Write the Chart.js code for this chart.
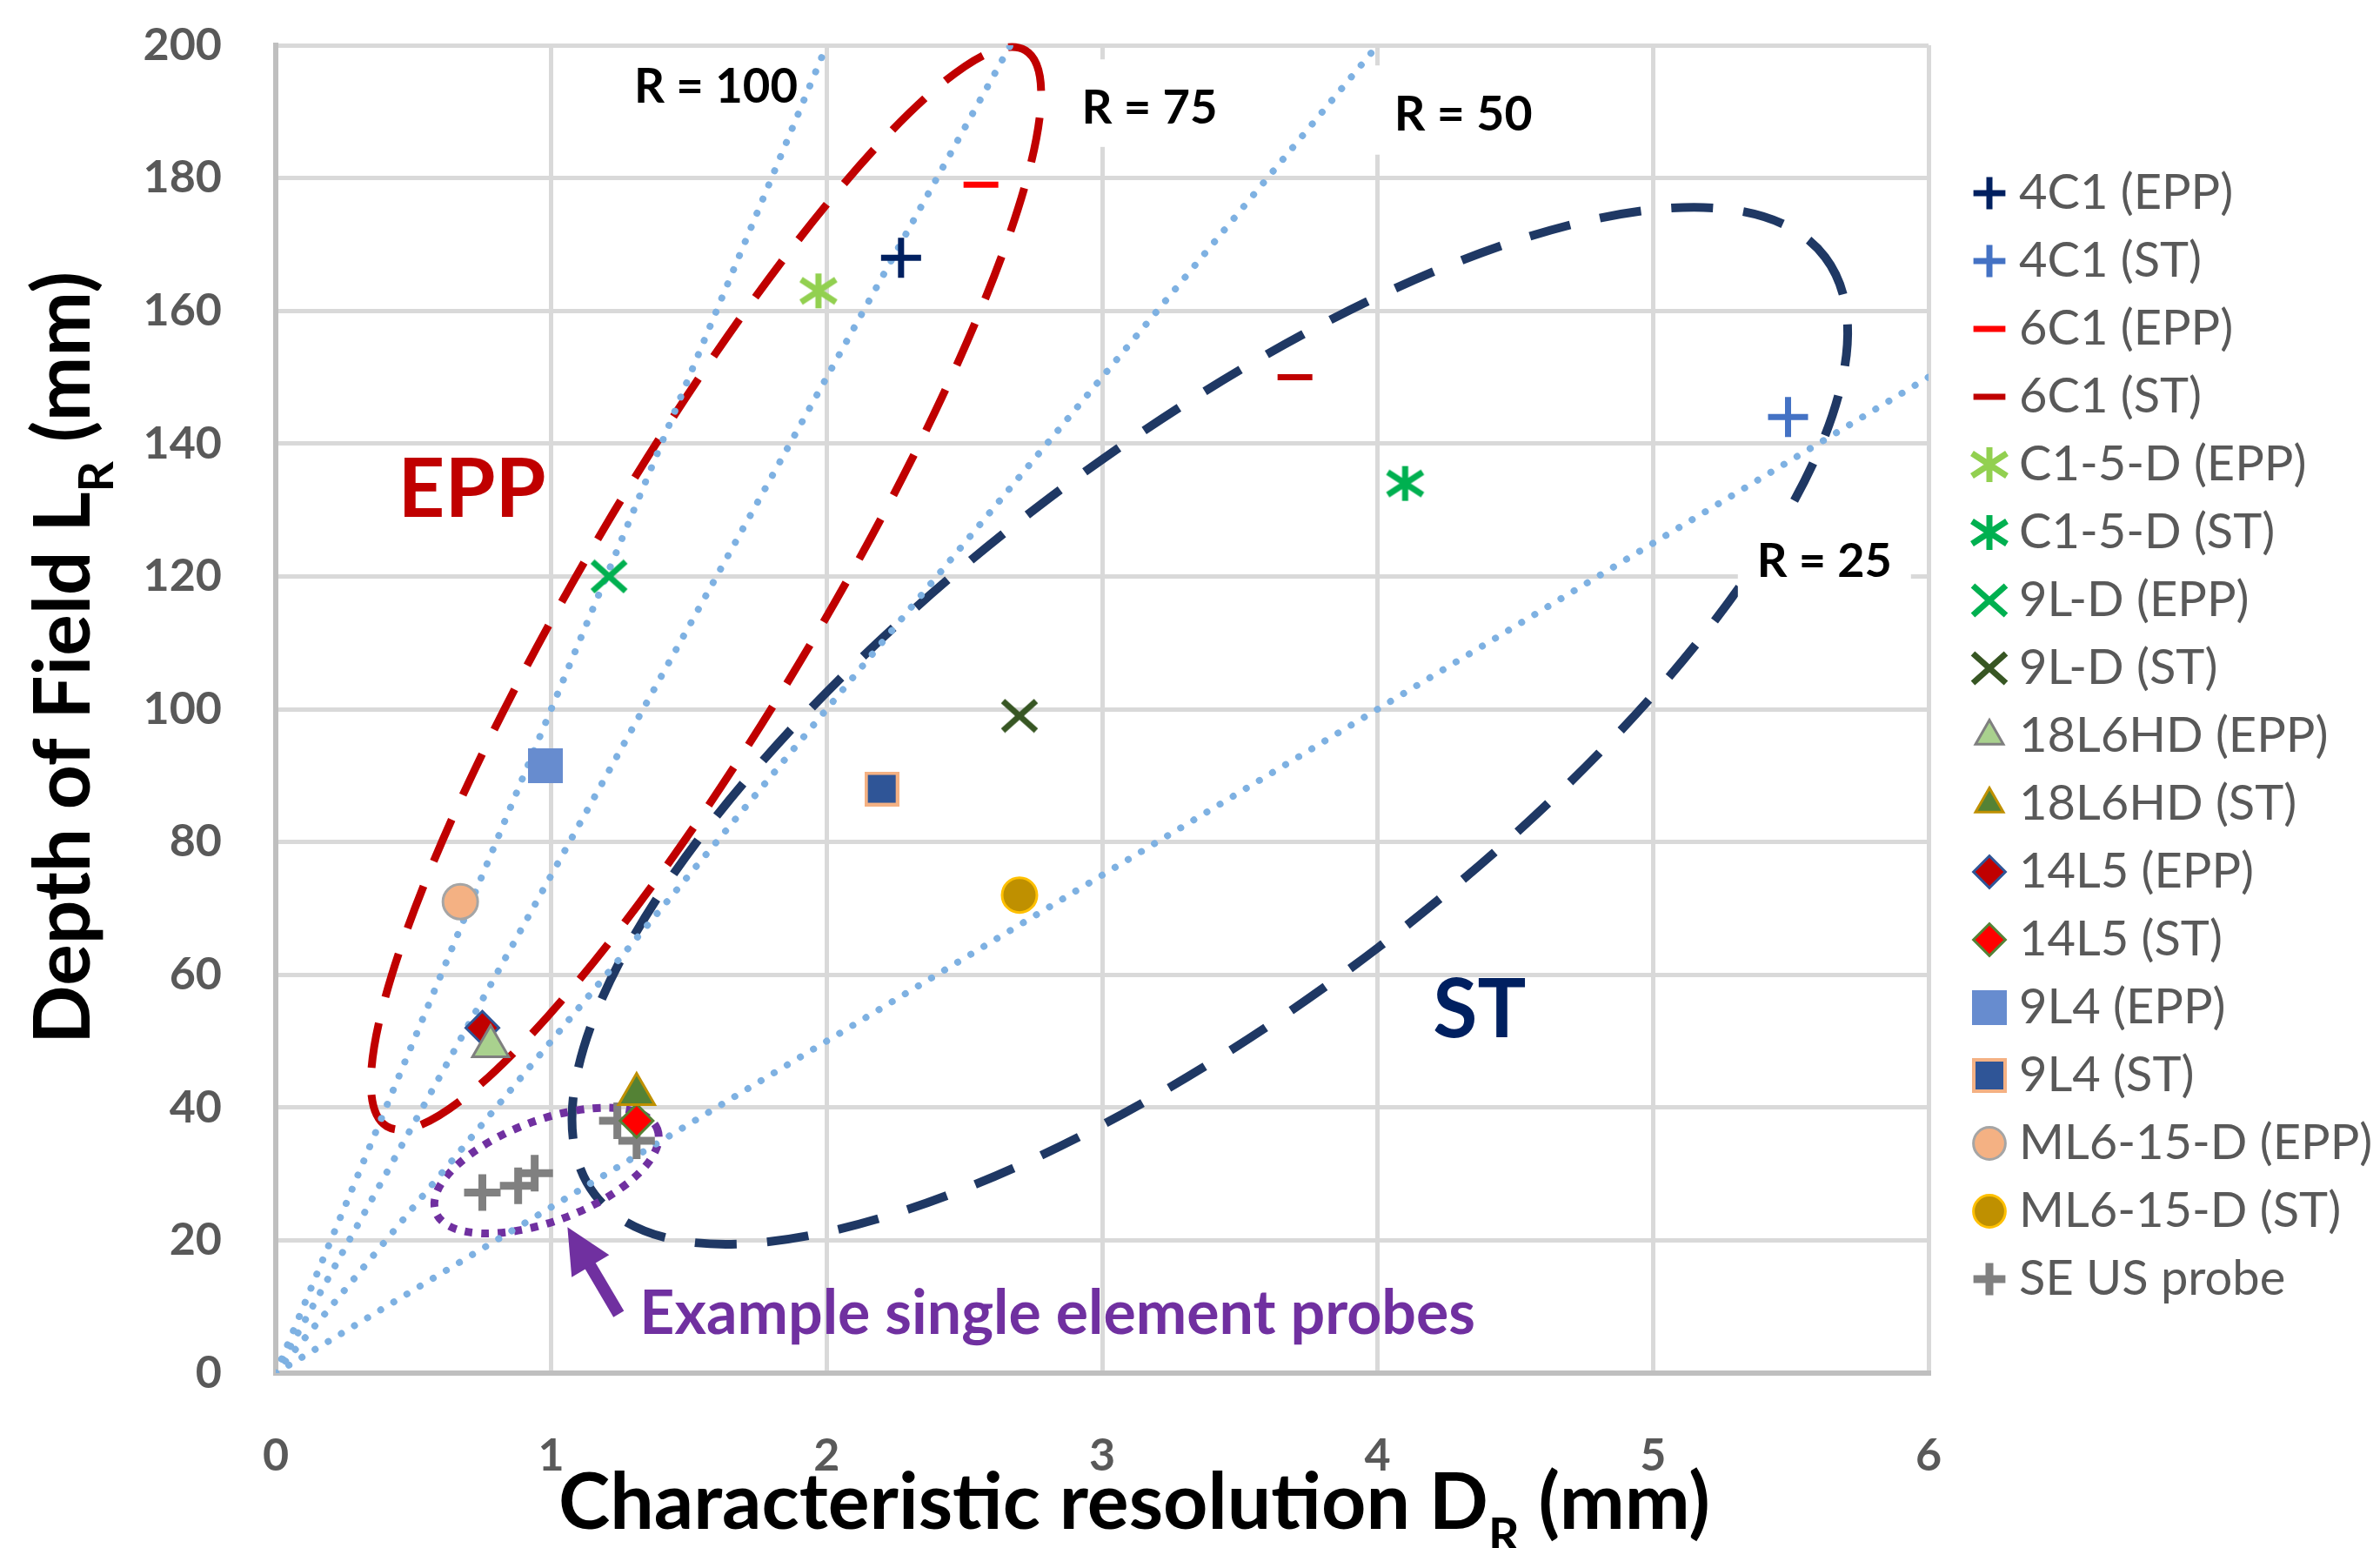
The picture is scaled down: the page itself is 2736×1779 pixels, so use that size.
<!DOCTYPE html>
<html>
<head>
<meta charset="utf-8">
<title>Depth of Field vs Characteristic resolution</title>
<script src="https://cdn.jsdelivr.net/npm/chart.js@4/dist/chart.umd.min.js"></script>
<style>
html, body { margin: 0; padding: 0; background: #ffffff; }
canvas { display: block; }
</style>
</head>
<body>
<canvas id="chart" width="2736" height="1779"></canvas>
<script>
// ---------------- data ----------------
const probeNames = ['4C1 (EPP)', '4C1 (ST)', '6C1 (EPP)', '6C1 (ST)', 'C1-5-D (EPP)', 'C1-5-D (ST)',
  '9L-D (EPP)', '9L-D (ST)', '18L6HD (EPP)', '18L6HD (ST)', '14L5 (EPP)', '14L5 (ST)',
  '9L4 (EPP)', '9L4 (ST)', 'ML6-15-D (EPP)', 'ML6-15-D (ST)'];
const probeResolution = [2.27, 5.49, 2.56, 3.70, 1.97, 4.10, 1.21, 2.70, 0.78, 1.31, 0.75, 1.31, 0.98, 2.20, 0.67, 2.70];
const probeDepth      = [168, 144, 179, 150, 163, 134, 120, 99, 49.2, 42, 52, 38, 91.5, 88, 71, 72];

const seProbeName = 'SE US probe';
const seProbeResolution = [0.75, 0.88, 0.94, 1.24, 1.31];
const seProbeDepth      = [27.2, 28.2, 30.1, 38.0, 35.0];

const rValues = [100, 75, 50, 25];
const rLineEndResolution = [2, 2.667, 4, 6];
const rLineEndDepth      = [200, 200, 200, 150];

const xTickValues = [0, 1, 2, 3, 4, 5, 6];
const yTickValues = [0, 20, 40, 60, 80, 100, 120, 140, 160, 180, 200];

// ---------------- styles ----------------
const FONT = 'Lato';
function asteriskMarker(color) {
  const c = document.createElement('canvas');
  c.width = 46; c.height = 44;
  const g = c.getContext('2d');
  g.strokeStyle = color; g.lineWidth = 7;
  g.beginPath();
  g.moveTo(23, 2); g.lineTo(23, 42);
  g.moveTo(3, 9); g.lineTo(43, 35);
  g.moveTo(3, 35); g.lineTo(43, 9);
  g.stroke();
  return c;
}
function xMarker(color) {
  const c = document.createElement('canvas');
  c.width = 44; c.height = 40;
  const g = c.getContext('2d');
  g.strokeStyle = color; g.lineWidth = 7;
  g.beginPath();
  g.moveTo(3, 3); g.lineTo(41, 37);
  g.moveTo(41, 3); g.lineTo(3, 37);
  g.stroke();
  return c;
}
function squareMarker(fill, border, bw) {
  const c = document.createElement('canvas');
  c.width = 40; c.height = 40;
  const g = c.getContext('2d');
  g.fillStyle = fill; g.fillRect(0, 0, 40, 40);
  if (bw) { g.strokeStyle = border; g.lineWidth = bw; g.strokeRect(bw / 2, bw / 2, 40 - bw, 40 - bw); }
  return c;
}
const markerStyles = [
  {shape: 'cross', r: 23, fill: '#002060', line: '#002060', w: 7},
  {shape: 'cross', r: 23, fill: '#4472C4', line: '#4472C4', w: 7},
  {shape: 'line', r: 20, fill: '#FF0000', line: '#FF0000', w: 7},
  {shape: 'line', r: 20, fill: '#C00000', line: '#C00000', w: 7},
  {shape: asteriskMarker('#92D050'), r: 22, fill: '#92D050', line: '#92D050', w: 7},
  {shape: asteriskMarker('#00B050'), r: 22, fill: '#00B050', line: '#00B050', w: 7},
  {shape: xMarker('#00B050'), r: 22, fill: '#00B050', line: '#00B050', w: 7},
  {shape: xMarker('#375623'), r: 22, fill: '#375623', line: '#375623', w: 7},
  {shape: 'triangle', r: 24, fill: '#A9D18E', line: '#7F7F7F', w: 3},
  {shape: 'triangle', r: 24, fill: '#548235', line: '#BF9000', w: 3},
  {shape: 'rectRot', r: 19, fill: '#C00000', line: '#2F5597', w: 3},
  {shape: 'rectRot', r: 19, fill: '#FF0000', line: '#548235', w: 3},
  {shape: squareMarker('#678CCF', '#678CCF', 0), r: 20, fill: '#678CCF', line: '#678CCF', w: 0},
  {shape: squareMarker('#2F5597', '#F4B183', 4), r: 20, fill: '#2F5597', line: '#F4B183', w: 4},
  {shape: 'circle', r: 20, fill: '#F4B183', line: '#A5A5A5', w: 3},
  {shape: 'circle', r: 20, fill: '#BF9000', line: '#FFC000', w: 3}
];
const seProbeStyle = {shape: 'cross', r: 21, fill: '#808080', line: '#808080', w: 9};

// ---------------- annotations (shapes and texts) ----------------
const ellipses = [
  {cx: 1.562, cy: 118.2, rx: 719, ry: 136, angle: -59.3, color: '#C00000', width: 9, dash: [52, 31]},
  {cx: 3.391, cy: 97.5, rx: 889, ry: 320, angle: -37.3, color: '#1F3864', width: 10, dash: [48, 35]},
  {cx: 0.983, cy: 30.5, rx: 136, ry: 58, angle: -20.5, color: '#7030A0', width: 9, dash: [9, 10]}
];
const annotationTexts = [
  {text: 'R = 100', x: 1.598, y: 191.35, width: 188, color: '#000000', box: false},
  {text: 'R = 75', x: 3.172, y: 188.25, width: 156, color: '#000000', box: true},
  {text: 'R = 50', x: 4.311, y: 187.15, width: 159, color: '#000000', box: true},
  {text: 'R = 25', x: 5.622, y: 119.95, width: 155, color: '#000000', box: true},
  {text: 'EPP', x: 0.712, y: 128.96, width: 170, color: '#C00000', box: false},
  {text: 'ST', x: 4.370, y: 50.63, width: 107, color: '#002060', box: false},
  {text: 'Example single element probes', x: 2.838, y: 5.9, width: 961, color: '#7030A0', box: false}
];
const arrow = {fromX: 1.245, fromY: 8.9, toX: 1.059, toY: 22.0, color: '#7030A0', shaft: 14, headLen: 52, headHalf: 25};

// ---------------- datasets ----------------
const datasets = [];
probeNames.forEach((name, i) => {
  const s = markerStyles[i];
  datasets.push({
    label: name,
    data: [{x: probeResolution[i], y: probeDepth[i]}],
    pointStyle: s.shape, pointRadius: s.r, pointHoverRadius: s.r,
    pointBackgroundColor: s.fill, pointBorderColor: s.line, pointBorderWidth: s.w,
    backgroundColor: s.fill, borderColor: s.line, borderWidth: s.w,
    clip: false
  });
});
datasets.push({
  label: seProbeName,
  data: seProbeResolution.map((x, j) => ({x: x, y: seProbeDepth[j]})),
  pointStyle: seProbeStyle.shape, pointRadius: seProbeStyle.r, pointHoverRadius: seProbeStyle.r,
  pointBackgroundColor: seProbeStyle.fill, pointBorderColor: seProbeStyle.line, pointBorderWidth: seProbeStyle.w,
  backgroundColor: seProbeStyle.fill, borderColor: seProbeStyle.line, borderWidth: seProbeStyle.w,
  clip: false
});
const legendCount = datasets.length;
rValues.forEach((r, i) => {
  datasets.push({
    label: 'R = ' + r,
    data: [{x: 0, y: 0}, {x: rLineEndResolution[i], y: rLineEndDepth[i]}],
    showLine: true, pointRadius: 0, pointHoverRadius: 0,
    borderColor: '#7EB1E2', borderWidth: 8, borderDash: [0.1, 17.5], borderCapStyle: 'round'
  });
});

// ---------------- drawing helpers ----------------
function fitSize(ctx, text, target, weight) {
  ctx.font = weight + ' 100px ' + FONT;
  return 100 * target / ctx.measureText(text).width;
}
function drawSubTitle(ctx, parts, target) {
  ctx.font = 'bold 100px ' + FONT;
  const w0 = ctx.measureText(parts[0]).width, w2 = ctx.measureText(parts[2]).width;
  ctx.font = 'bold 62px ' + FONT;
  const w1 = ctx.measureText(parts[1]).width;
  const size = 100 * target / (w0 + w1 + w2);
  const k = size / 100;
  let x = -(w0 + w1 + w2) * k / 2;
  ctx.textAlign = 'left'; ctx.textBaseline = 'alphabetic';
  ctx.font = 'bold ' + size + 'px ' + FONT;
  ctx.fillText(parts[0], x, 0); x += w0 * k;
  ctx.font = 'bold ' + (size * 0.62) + 'px ' + FONT;
  ctx.fillText(parts[1], x, size * 0.3); x += w1 * k;
  ctx.font = 'bold ' + size + 'px ' + FONT;
  ctx.fillText(parts[2], x, 0);
}

const annotationPlugin = {
  id: 'annotations',
  beforeDatasetsDraw(chart) {
    const {ctx, scales} = chart;
    ctx.save();
    ellipses.forEach(e => {
      ctx.beginPath();
      ctx.ellipse(scales.x.getPixelForValue(e.cx), scales.y.getPixelForValue(e.cy), e.rx, e.ry, e.angle * Math.PI / 180, 0, Math.PI * 2);
      ctx.setLineDash(e.dash);
      ctx.lineWidth = e.width;
      ctx.strokeStyle = e.color;
      ctx.lineCap = 'butt';
      ctx.stroke();
    });
    ctx.restore();
  },
  afterDatasetsDraw(chart) {
    const {ctx, scales} = chart;
    ctx.save();
    ctx.setLineDash([]);
    annotationTexts.forEach(t => {
      const size = fitSize(ctx, t.text, t.width, 'bold');
      ctx.font = 'bold ' + size + 'px ' + FONT;
      const cx = scales.x.getPixelForValue(t.x);
      const by = scales.y.getPixelForValue(t.y);
      if (t.box) {
        const w = ctx.measureText(t.text).width;
        ctx.fillStyle = '#ffffff';
        ctx.fillRect(cx - w / 2 - 22, by - size * 1.35, w + 44, size * 1.85);
      }
      ctx.fillStyle = t.color;
      ctx.textAlign = 'center';
      ctx.textBaseline = 'alphabetic';
      ctx.fillText(t.text, cx, by);
    });
    const x1 = scales.x.getPixelForValue(arrow.fromX), y1 = scales.y.getPixelForValue(arrow.fromY);
    const x2 = scales.x.getPixelForValue(arrow.toX), y2 = scales.y.getPixelForValue(arrow.toY);
    const len = Math.hypot(x2 - x1, y2 - y1);
    const ux = (x2 - x1) / len, uy = (y2 - y1) / len;
    const bx = x2 - ux * arrow.headLen, by = y2 - uy * arrow.headLen;
    ctx.strokeStyle = arrow.color; ctx.fillStyle = arrow.color;
    ctx.lineWidth = arrow.shaft; ctx.lineCap = 'butt';
    ctx.beginPath(); ctx.moveTo(x1, y1); ctx.lineTo(bx + ux * 2, by + uy * 2); ctx.stroke();
    ctx.beginPath();
    ctx.moveTo(x2, y2);
    ctx.lineTo(bx - uy * arrow.headHalf, by + ux * arrow.headHalf);
    ctx.lineTo(bx + uy * arrow.headHalf, by - ux * arrow.headHalf);
    ctx.closePath(); ctx.fill();
    ctx.restore();
  },
  afterDraw(chart) {
    const {ctx} = chart;
    ctx.save();
    ctx.fillStyle = '#000000';
    ctx.translate(1304, 1757);
    drawSubTitle(ctx, ['Characteristic resolution D', 'R', ' (mm)'], 1324);
    ctx.restore();
    ctx.save();
    ctx.fillStyle = '#000000';
    ctx.translate(103, 756);
    ctx.rotate(-Math.PI / 2);
    drawSubTitle(ctx, ['Depth of Field L', 'R', ' (mm)'], 888);
    ctx.restore();
  }
};

Chart.defaults.font.family = FONT;

new Chart(document.getElementById('chart'), {
  type: 'scatter',
  data: {datasets: datasets},
  plugins: [annotationPlugin],
  options: {
    responsive: false,
    animation: false,
    devicePixelRatio: 1,
    layout: {padding: {top: 52, left: 0, bottom: 0, right: 0}},
    plugins: {
      tooltip: {enabled: false},
      legend: {
        position: 'right',
        align: 'start',
        maxWidth: 477,
        title: {display: true, text: '', padding: {top: 0, bottom: 108}, font: {size: 10}},
        labels: {
          usePointStyle: true, boxWidth: 12, boxHeight: 26, padding: 22,
          color: '#595959', font: {family: FONT, size: 56},
          filter: item => item.datasetIndex < legendCount
        }
      }
    },
    scales: {
      x: {
        type: 'linear', position: 'bottom',
        min: xTickValues[0], max: xTickValues[xTickValues.length - 1],
        ticks: {stepSize: xTickValues[1] - xTickValues[0], padding: 64, color: '#595959', font: {family: FONT, size: 52, weight: 'bold'}},
        grid: {color: '#D9D9D9', lineWidth: 5, drawTicks: false},
        border: {color: '#BFBFBF', width: 6},
        afterFit: s => { s.height = 201; }
      },
      y: {
        type: 'linear', position: 'left',
        min: yTickValues[0], max: yTickValues[yTickValues.length - 1],
        ticks: {stepSize: yTickValues[1] - yTickValues[0], padding: 62, color: '#595959', font: {family: FONT, size: 52, weight: 'bold'}},
        grid: {color: '#D9D9D9', lineWidth: 5, drawTicks: false},
        border: {color: '#BFBFBF', width: 6},
        afterFit: s => { s.width = 317; s.paddingTop = 0; s.paddingBottom = 0; }
      },
      legendGap: {
        type: 'linear', position: 'right', display: true,
        grid: {display: false, drawTicks: false},
        border: {display: false},
        ticks: {display: false},
        afterFit: s => { s.width = 42; }
      }
    }
  }
});
</script>
</body>
</html>
